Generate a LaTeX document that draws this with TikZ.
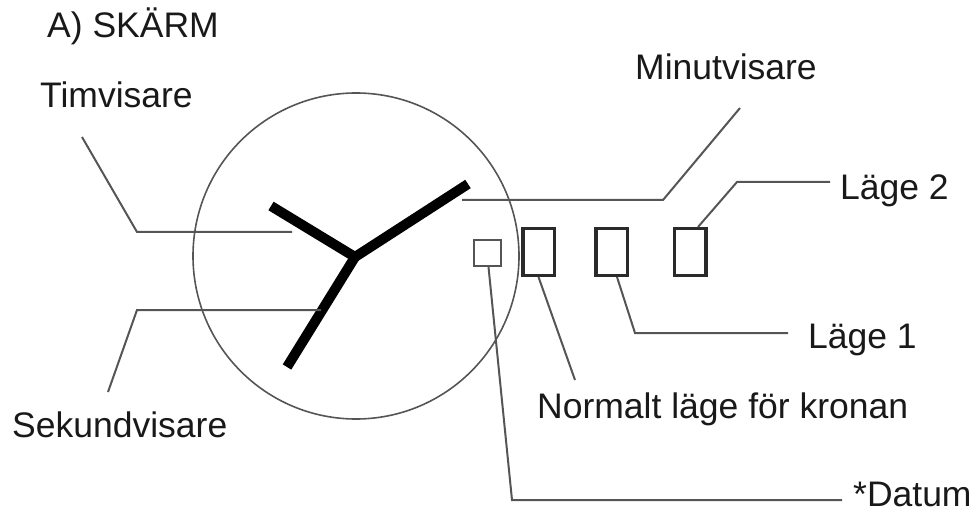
\documentclass[tikz,border=0pt]{standalone}
\usepackage{fontspec}
\setmainfont{Liberation Sans}
\definecolor{leadgray}{HTML}{555555}
\definecolor{boxdark}{HTML}{2A2A2A}
\begin{document}
\begin{tikzpicture}[x=1pt,y=-1pt,
  lbl/.style={anchor=base west,inner sep=0pt,font=\fontsize{35.5}{42}\selectfont,text=black!90},
  leader/.style={draw=leadgray,line width=2pt,line join=miter},
  hand/.style={draw=black,line width=10pt,line cap=butt},
  posbox/.style={draw=boxdark,line width=3.5pt,minimum width=31.5pt,minimum height=46.5pt,inner sep=0pt},
  datebox/.style={draw=leadgray,line width=2pt,minimum width=27pt,minimum height=26pt,inner sep=0pt}]
\useasboundingbox (0,0) rectangle (980,513);
% dial
\node[circle,draw=leadgray,line width=1.6pt,minimum size=326pt,inner sep=0pt] (dial) at (356,256) {};
% texts
\node[lbl] (title) at (47,38) {A) SKÄRM};
\node[lbl] (tim) at (40,108) {Timvisare};
\node[lbl] (min) at (635,80) {Minutvisare};
\node[lbl] (l2) at (840,200) {Läge 2};
\node[lbl] (l1) at (808,348) {Läge 1};
\node[lbl] (norm) at (537,418) {Normalt läge för kronan};
\node[lbl] (sek) at (12,437) {Sekundvisare};
\node[lbl] (dat) at (853,506) {*Datum};
% hands
\coordinate (c) at (355,257);
\coordinate (hh) at (271,206);
\coordinate (mh) at (468,184);
\coordinate (sh) at (287,367);
\draw[hand] (c) -- (hh);
\draw[hand] (c) -- (mh);
\draw[hand] (c) -- (sh);
% boxes
\node[datebox] (bd) at (487.5,253) {};
\node[posbox] (b1) at (538.5,252) {};
\node[posbox] (b2) at (611.5,252) {};
\node[posbox] (b3) at (690,252) {};
% leader coordinates
\coordinate (tim0) at (82,137);
\coordinate (tim1) at (137,232);
\coordinate (tim2) at (292,232);
\coordinate (sek0) at (108,392);
\coordinate (sek1) at (137,310);
\coordinate (sek2) at (321,310);
\coordinate (min0) at (740,108);
\coordinate (min1) at (663,200);
\coordinate (min2) at (462,200);
\coordinate (l2a) at (830,182);
\coordinate (l2b) at (737,182);
\coordinate (l1a) at (788,333);
\coordinate (l1b) at (635,333);
\coordinate (norm0) at (575,380);
\coordinate (dat0) at (842,500);
\coordinate (dat1) at (512,500);
% leaders
\draw[leader] (tim0) -- (tim1) -- (tim2);
\draw[leader] (sek0) -- (sek1) -- (sek2);
\draw[leader] (min0) -- (min1) -- (min2);
\draw[leader] (l2a) -- (l2b) -- ([xshift=8pt]b3.north);
\draw[leader] (l1a) -- (l1b) -- ([xshift=5.5pt]b2.south);
\draw[leader] (norm0) -- (b1.south);
\draw[leader] (dat0) -- (dat1) -- ([xshift=1pt]bd.south);
\end{tikzpicture}
\end{document}
